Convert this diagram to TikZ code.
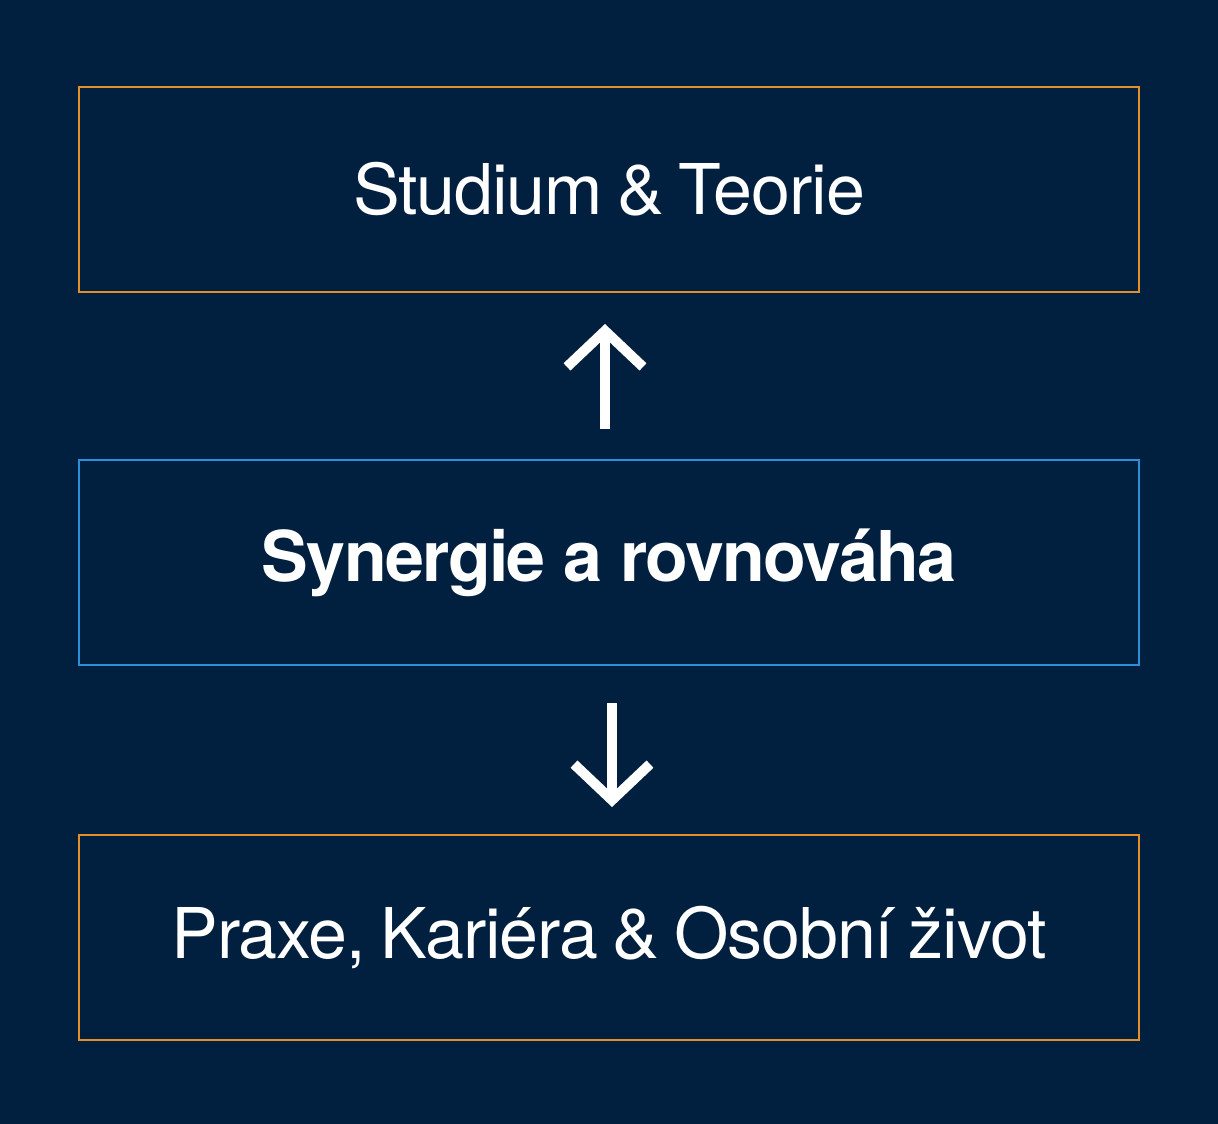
\documentclass[tikz,border=0pt]{standalone}
\usepackage{fontspec}
\setmainfont[LetterSpace=-1.6, WordSpace=0.8]{TeX Gyre Heros}
\newfontfamily\boldheros[LetterSpace=-2.4]{TeX Gyre Heros Bold}
\usepackage{tikz}
\usetikzlibrary{positioning}
\usetikzlibrary{arrows.meta}
\definecolor{navybg}{RGB}{1,31,62}
\definecolor{rimorange}{RGB}{228,144,42}
\definecolor{rimblue}{RGB}{43,143,217}

\begin{document}
\begin{tikzpicture}[x=1pt, y=-1pt,
    every node/.style={text=white},
    panel/.style={draw, line width=2pt, minimum width=1060pt,
                  minimum height=205pt, inner sep=0pt},
    flowarrow/.style={white, line width=10pt,
                  -{Straight Barb[length=36pt, width=76pt]}},
    node distance=166pt]

\fill [navybg] (0,0) rectangle (1218,1124);
\useasboundingbox (0,0) rectangle (1218,1124);

\node (theory) [panel, draw=rimorange, font=\fontsize{70}{80}\selectfont]
    at (609,189.5) {\raisebox{2pt}{Studium \& Teorie}};
\node (balance) [panel, draw=rimblue, below=of theory,
    font=\fontsize{70}{80}\boldheros] {Synergie a rovnováha};
\node (life) [panel, draw=rimorange, below=168pt of balance,
    font=\fontsize{70}{80}\selectfont] {Praxe, Kariéra \& Osobní život};
%
\draw [flowarrow, shorten <=30pt, shorten >=31pt]
    ([xshift=-4pt]balance.north) -- ([xshift=-4pt]theory.south);
\draw [flowarrow, shorten <=37pt, shorten >=27pt]
    ([xshift=3pt]balance.south) -- ([xshift=3pt]life.north);
\end{tikzpicture}
\end{document}
